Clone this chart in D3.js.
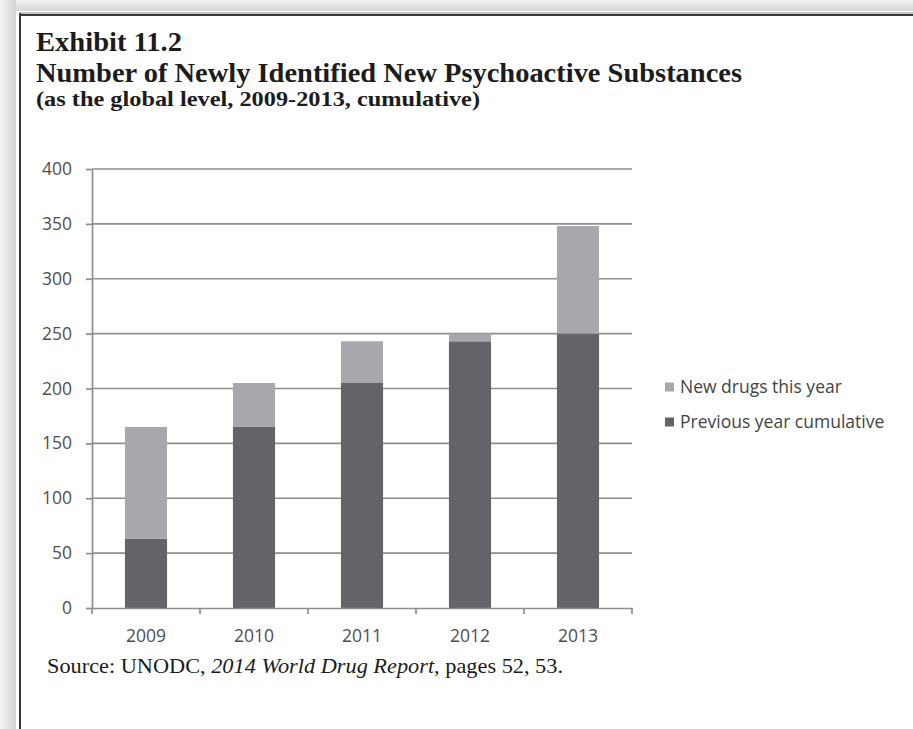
<!DOCTYPE html>
<html>
<head>
<meta charset="utf-8">
<script src="https://cdn.jsdelivr.net/npm/d3@7/dist/d3.min.js"></script>
<style>
  html, body { margin: 0; padding: 0; background: #fff; }
  svg { display: block; }
</style>
</head>
<body>
<svg id="chart" width="913" height="729"></svg>
<script>
// Newly identified NPS, global level, cumulative
const years = ["2009", "2010", "2011", "2012", "2013"];
const previousCumulative = [63, 165, 205, 243, 250];
const newThisYear = [102, 40, 38, 7, 98];
const yTickValues = [0, 50, 100, 150, 200, 250, 300, 350, 400];
const seriesNames = ["Previous year cumulative", "New drugs this year"];
const legendOrder = ["New drugs this year", "Previous year cumulative"];

const colors = {
  "Previous year cumulative": "#636467",
  "New drugs this year": "#a7a8ab"
};

const svg = d3.select("#chart");
const W = 913, H = 729;

// page frame with a soft shadow along the top and left
const defs = svg.append("defs");
const gTop = defs.append("linearGradient").attr("id", "shadeTop")
  .attr("x1", 0).attr("y1", 0).attr("x2", 0).attr("y2", 1);
gTop.append("stop").attr("offset", "0%").attr("stop-color", "#f3f3f3");
gTop.append("stop").attr("offset", "100%").attr("stop-color", "#d6d6d6");
const gLeft = defs.append("linearGradient").attr("id", "shadeLeft")
  .attr("x1", 0).attr("y1", 0).attr("x2", 1).attr("y2", 0);
gLeft.append("stop").attr("offset", "0%").attr("stop-color", "#f6f6f6");
gLeft.append("stop").attr("offset", "100%").attr("stop-color", "#d2d2d2");

svg.append("rect").attr("width", W).attr("height", H).attr("fill", "#fff");
svg.append("rect").attr("x", 0).attr("y", 0).attr("width", W).attr("height", 11).attr("fill", "url(#shadeTop)");
svg.append("rect").attr("x", 0).attr("y", 0).attr("width", 16).attr("height", H).attr("fill", "url(#shadeLeft)");
svg.append("rect").attr("x", 16).attr("y", 11).attr("width", W - 16).attr("height", H - 11).attr("fill", "#fff");
svg.append("line").attr("x1", 20).attr("x2", W).attr("y1", 13).attr("y2", 13)
  .attr("stroke", "#8a8a8a").attr("stroke-width", 1.2);
svg.append("line").attr("x1", 20).attr("x2", W).attr("y1", 15).attr("y2", 15)
  .attr("stroke", "#3a3a3a").attr("stroke-width", 2);
svg.append("line").attr("x1", 20).attr("x2", 20).attr("y1", 13).attr("y2", H)
  .attr("stroke", "#3a3a3a").attr("stroke-width", 2);

// headings (condensed bold serif)
const serif = "'Liberation Serif', 'Times New Roman', serif";
const head = svg.append("g").attr("fill", "#1c1c1c").attr("font-family", serif).attr("font-weight", "bold");
head.append("text").attr("x", 36).attr("y", 51).attr("font-size", 27)
  .attr("textLength", 146).attr("lengthAdjust", "spacingAndGlyphs").text("Exhibit 11.2");
head.append("text").attr("x", 36).attr("y", 82).attr("font-size", 27)
  .attr("textLength", 706).attr("lengthAdjust", "spacingAndGlyphs")
  .text("Number of Newly Identified New Psychoactive Substances");
head.append("text").attr("x", 36).attr("y", 106).attr("font-size", 21)
  .attr("textLength", 444).attr("lengthAdjust", "spacingAndGlyphs")
  .text("(as the global level, 2009-2013, cumulative)");

// scales
const x = d3.scaleBand().domain(years).range([92, 632]).paddingInner(0.61).paddingOuter(0.305);
const y = d3.scaleLinear().domain([0, 400]).range([608, 169]);

const sans = "'Open Sans', 'DejaVu Sans', sans-serif";
const axisColor = "#8e8e8e";
const labelColor = "#4f4f4f";

// horizontal gridlines
svg.append("g").selectAll("line")
  .data(yTickValues.filter(d => d > 0))
  .join("line")
  .attr("x1", 92).attr("x2", 632)
  .attr("y1", d => y(d)).attr("y2", d => y(d))
  .attr("stroke", axisColor).attr("stroke-width", 1.7);

// stacked bars
const table = years.map((yr, i) => ({
  year: yr,
  "Previous year cumulative": previousCumulative[i],
  "New drugs this year": newThisYear[i]
}));
const stacked = d3.stack().keys(seriesNames)(table);

svg.append("g").selectAll("g")
  .data(stacked)
  .join("g")
  .attr("fill", s => colors[s.key])
  .selectAll("rect")
  .data(s => s)
  .join("rect")
  .attr("x", d => x(d.data.year))
  .attr("width", x.bandwidth())
  .attr("y", d => y(d[1]))
  .attr("height", d => y(d[0]) - y(d[1]));

// y axis
const yAxis = svg.append("g").attr("transform", "translate(92,0)")
  .call(d3.axisLeft(y).tickValues(yTickValues).tickSize(6).tickSizeOuter(0).tickPadding(14));
yAxis.select(".domain").attr("stroke", axisColor).attr("stroke-width", 1.7);
yAxis.selectAll(".tick line").attr("stroke", axisColor).attr("stroke-width", 1.7);
yAxis.selectAll(".tick text").attr("fill", labelColor).attr("font-family", sans).attr("font-size", 17.5);

// x axis with ticks on category boundaries
const xAxis = svg.append("g").attr("transform", "translate(0,608)")
  .call(d3.axisBottom(x).tickSize(0).tickSizeOuter(0).tickPadding(22));
xAxis.select(".domain").attr("stroke", axisColor).attr("stroke-width", 1.7);
xAxis.selectAll(".tick text").attr("fill", labelColor).attr("font-family", sans).attr("font-size", 17.5);

const gap = (x.step() - x.bandwidth()) / 2;
const bounds = years.map(d => x(d) - gap).concat([x(years[years.length - 1]) + x.bandwidth() + gap]);
svg.append("g").selectAll("line")
  .data(bounds)
  .join("line")
  .attr("x1", d => d).attr("x2", d => d)
  .attr("y1", 608).attr("y2", 614)
  .attr("stroke", axisColor).attr("stroke-width", 1.7);

// legend
const legend = svg.append("g").attr("font-family", sans).attr("font-size", 17.5);
legendOrder.forEach((name, i) => {
  const cy = 387 + i * 35;
  legend.append("rect").attr("x", 665).attr("y", cy - 4.5).attr("width", 9).attr("height", 9)
    .attr("fill", colors[name]);
  legend.append("text").attr("x", 680).attr("y", cy).attr("dy", "0.35em")
    .attr("fill", "#444").text(name);
});

// source note
const src = svg.append("text").attr("x", 47).attr("y", 673)
  .attr("font-family", serif).attr("font-size", 21).attr("fill", "#1c1c1c")
  .attr("textLength", 516).attr("lengthAdjust", "spacingAndGlyphs");
src.append("tspan").text("Source: UNODC, ");
src.append("tspan").attr("font-style", "italic").text("2014 World Drug Report,");
src.append("tspan").text(" pages 52, 53.");
</script>
</body>
</html>
